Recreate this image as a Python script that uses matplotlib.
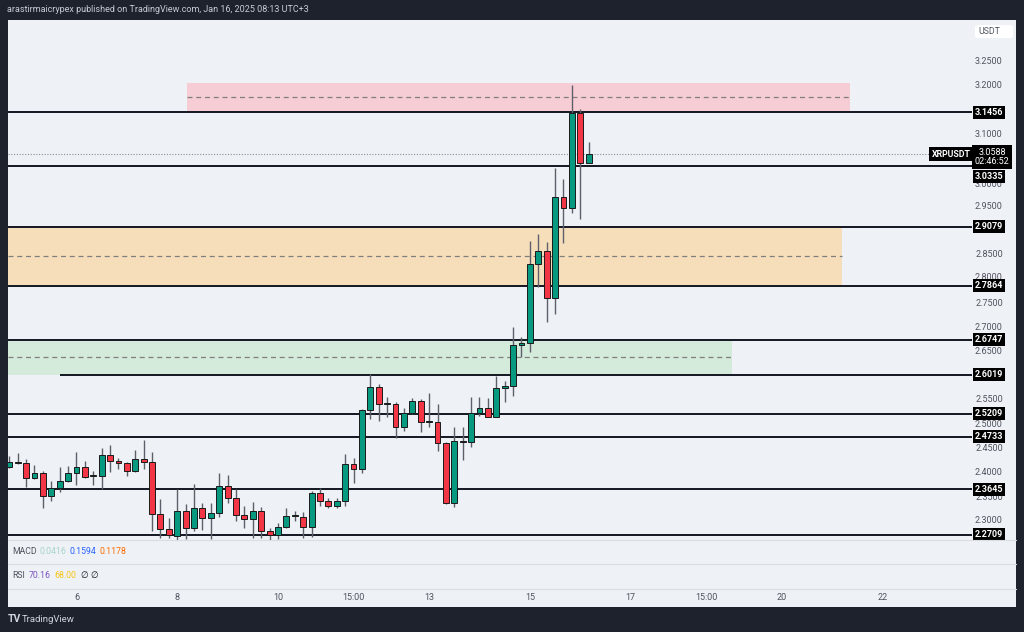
import matplotlib
matplotlib.use('Agg')
import matplotlib.pyplot as plt
import matplotlib.transforms as mtransforms
from matplotlib.patches import Rectangle, FancyBboxPatch

plt.rcParams['font.family'] = ['Roboto', 'DejaVu Sans']

# ---------------- data (4h XRPUSDT candles) ----------------
opens = [2.410, 2.422, 2.4185, 2.3875, 2.399, 2.3508, 2.3668, 2.3825, 2.3978, 2.4102,
         2.392, 2.3929, 2.4357, 2.4233, 2.4185, 2.4026, 2.4268, 2.4206, 2.3129, 2.2819,
         2.2686, 2.3198, 2.2839, 2.3254, 2.3059, 2.315, 2.3715, 2.346, 2.3115, 2.3026,
         2.3198, 2.2783, 2.2701, 2.2873, 2.3094, 2.308, 2.286, 2.3564, 2.3405, 2.3307,
         2.3411, 2.4165, 2.406, 2.5289, 2.5759, 2.5413, 2.5413, 2.4931, 2.522, 2.5481,
         2.5047, 2.5047, 2.4612, 2.337, 2.4653, 2.4633, 2.522, 2.5324, 2.515, 2.5738,
         2.5786, 2.6635, 2.667, 2.8312, 2.8587, 2.7601, 2.9705, 2.9465, 3.1432, 3.0409]
highs = [2.434, 2.4405, 2.4268, 2.415, 2.4026, 2.3818, 2.4102, 2.4136, 2.4413, 2.4233,
         2.4032, 2.4496, 2.4564, 2.4289, 2.4218, 2.4461, 2.4668, 2.4426, 2.3446, 2.3046,
         2.3653, 2.3336, 2.3749, 2.3357, 2.3357, 2.3978, 2.3943, 2.3653, 2.3307, 2.3378,
         2.3287, 2.284, 2.2943, 2.3254, 2.3198, 2.317, 2.3612, 2.368, 2.3467, 2.3467,
         2.4371, 2.4289, 2.5303, 2.6034, 2.5827, 2.5552, 2.545, 2.5324, 2.5531, 2.551,
         2.5635, 2.5413, 2.462, 2.4943, 2.4931, 2.5552, 2.5552, 2.5531, 2.5993, 2.5896,
         2.7001, 2.6807, 2.8788, 2.8933, 2.8761, 3.0293, 3.0071, 3.2018, 3.1515, 3.0844]
lows = [2.408, 2.4165, 2.3701, 2.386, 2.3266, 2.3411, 2.3585, 2.3805, 2.3737, 2.389,
        2.3737, 2.3647, 2.3999, 2.4067, 2.3922, 2.401, 2.406, 2.2783, 2.2632, 2.2632,
        2.2597, 2.2618, 2.2783, 2.2804, 2.2618, 2.308, 2.3357, 2.299, 2.2853, 2.2632,
        2.2632, 2.2597, 2.2618, 2.2839, 2.299, 2.2632, 2.2666, 2.3307, 2.3266, 2.3266,
        2.3307, 2.3784, 2.3978, 2.5096, 2.5068, 2.515, 2.4703, 2.486, 2.5206, 2.4838,
        2.4944, 2.4446, 2.3343, 2.3287, 2.4253, 2.4516, 2.5165, 2.5137, 2.5137, 2.5461,
        2.5579, 2.638, 2.6496, 2.7842, 2.7117, 2.727, 2.874, 2.9361, 2.9237, 3.040]
closes = [2.422, 2.419, 2.3887, 2.399, 2.3508, 2.3668, 2.3825, 2.399, 2.4102, 2.3908,
          2.393, 2.4357, 2.4233, 2.4185, 2.4026, 2.4268, 2.4206, 2.3129, 2.2819, 2.2701,
          2.3198, 2.2839, 2.3254, 2.3059, 2.315, 2.3715, 2.346, 2.3115, 2.3026, 2.3198,
          2.2783, 2.2701, 2.2873, 2.3094, 2.3100, 2.286, 2.3564, 2.3405, 2.3307, 2.3411,
          2.4165, 2.406, 2.5289, 2.5759, 2.5413, 2.5420, 2.4931, 2.522, 2.5481, 2.5034,
          2.5052, 2.4612, 2.337, 2.4653, 2.462, 2.522, 2.5324, 2.515, 2.5738, 2.5792,
          2.6635, 2.6682, 2.8312, 2.8587, 2.7601, 2.9705, 2.9465, 3.1432, 3.0409, 3.0588]

level_prices = [3.1456, 3.0335, 2.9079, 2.7864, 2.6747, 2.6019, 2.5209, 2.4733, 2.3645, 2.2709]
level_labels = ['3.1456', '3.0335', '2.9079', '2.7864', '2.6747', '2.6019', '2.5209', '2.4733', '2.3645', '2.2709']

zone_lows = [3.1456, 2.7864, 2.6019]
zone_highs = [3.2066, 2.9079, 2.6747]

price_tick_labels = ['2.3000', '2.3500', '2.4000', '2.4500', '2.5000', '2.5500', '2.6000',
                     '2.6500', '2.7000', '2.7500', '2.8000', '2.8500', '2.9000', '2.9500',
                     '3.0000', '3.0500', '3.1000', '3.1500', '3.2000', '3.2500']
hidden_ticks = ['2.6000', '2.9000', '3.0500', '3.1500']

time_tick_pos = [8, 20, 32, 41, 50, 62, 74, 83, 92, 104]
time_tick_labels = ['6', '8', '10', '15:00', '13', '15', '17', '15:00', '20', '22']

last_price = 3.0588
last_label = '3.0588\n02:46:52'
symbol = 'XRPUSDT'

# ---------------- figure ----------------
W, H = 1024, 632
fig = plt.figure(figsize=(W / 100, H / 100), dpi=100, facecolor='#1e222d')

def fx(px):
    return px / W

def fy(py):
    return 1 - py / H

panel_bg = '#eef1f5'
fig.patches.append(Rectangle((fx(8), fy(607)), fx(1016) - fx(8), fy(20) - fy(607),
                             transform=fig.transFigure, facecolor=panel_bg,
                             edgecolor='none', zorder=-2))

ax = fig.add_axes([fx(8), fy(540), fx(972) - fx(8), fy(20) - fy(540)])
ax.set_facecolor('none')
for s in ax.spines.values():
    s.set_visible(False)
ax.set_xticks([])
ax.set_yticks([])
x_left, x_right = -0.155, 114.66
ax.set_xlim(x_left, x_right)
ax.set_ylim(2.2597, 3.3363)

# zones
zone_starts = [21.16, x_left, x_left]
zone_ends = [100.1, 99.2, 86.1]
zone_colors = ['#f6cdd4', '#f7debb', '#d4eadb']
for lo, hi, xs, xe, c in zip(zone_lows, zone_highs, zone_starts, zone_ends, zone_colors):
    ax.add_patch(Rectangle((xs, lo), xe - xs, hi - lo, facecolor=c, edgecolor='none', zorder=1))
    ax.hlines((lo + hi) / 2, xs, xe, colors='#7f7f7f', linestyles=(0, (4, 3)), lw=0.9, zorder=2)

# level lines
level_starts = [x_left] * len(level_prices)
level_starts[5] = 6.04
for p, xs in zip(level_prices, level_starts):
    ax.hlines(p, xs, x_right, colors='#131722', lw=1.4, zorder=3)

# current price dotted line
ax.hlines(last_price, x_left, 109.66, colors='#8a8d96', linestyles=(0, (1, 1.5)), lw=0.8, zorder=3)

# candles
up_c, dn_c = '#089981', '#f23645'
for i, (o, h, l, c) in enumerate(zip(opens, highs, lows, closes)):
    col = up_c if c >= o else dn_c
    ax.vlines(i, l, h, colors='#5d606b', lw=1.0, zorder=4)
    bottom = min(o, c)
    height = max(abs(c - o), 0.0018)
    ax.bar(i, height, bottom=bottom, width=0.7, color=col, edgecolor='#1a1a1a',
           linewidth=0.7, zorder=5)

# price axis labels (a few nudged so they peek out from under the level boxes)
ytr = ax.get_yaxis_transform()
xlab = (989 - 8) / 964
nudge = {'3.0000': -0.0045, '2.8000': 0.004, '2.3500': -0.003, '2.5000': -0.001}
for lab in price_tick_labels:
    if lab in hidden_ticks:
        continue
    ax.text(xlab, float(lab) + nudge.get(lab, 0.0), lab, transform=ytr, ha='center',
            va='center', fontsize=6.5, color='#50535e', clip_on=False, zorder=6)

label_y = list(level_prices)
label_y[1] = 3.0125
for p, lab in zip(label_y, level_labels):
    ax.text(xlab, p, lab, transform=ytr, ha='center', va='center', fontsize=6.5,
            fontweight='bold', color='white', clip_on=False, zorder=10,
            bbox=dict(boxstyle='square,pad=0.22', fc='#000000', ec='none'))

ax.text((951 - 8) / 964, last_price, symbol, transform=ytr, ha='center', va='center',
        fontsize=6.3, fontweight='bold', color='white', clip_on=False, zorder=10,
        bbox=dict(boxstyle='square,pad=0.3', fc='#000000', ec='none'))
ax.text((992 - 8) / 964, 3.0527, last_label, transform=ytr, ha='center', va='center',
        fontsize=6.5, color='white', linespacing=1.05, clip_on=False, zorder=11,
        bbox=dict(boxstyle='square,pad=0.3', fc='#000000', ec='none'))

# USDT box
fig.patches.append(FancyBboxPatch((fx(975), fy(38)), fx(1013) - fx(975), fy(25) - fy(38),
                                  boxstyle='round,pad=0,rounding_size=0.003',
                                  transform=fig.transFigure, fc='white', ec='none', zorder=3))
fig.text(fx(989), fy(31.5), 'USDT', ha='center', va='center', fontsize=6.3, color='#50535e',
         zorder=4)

# pane separators
for yy in [540, 564, 589]:
    fig.add_artist(plt.Line2D([fx(8), fx(1016)], [fy(yy), fy(yy)], transform=fig.transFigure,
                              color='#dadde3', lw=0.8))

# indicator legends
def seq(x0, y, parts, size=6.3):
    x = x0
    for txt, col, w in parts:
        fig.text(fx(x), fy(y), txt, ha='left', va='center', fontsize=size, color=col)
        x += w

seq(12, 552, [('MACD', '#50535e', 27), ('0.0416', '#a8d5cc', 30),
              ('0.1594', '#2962ff', 30), ('0.1178', '#ff6d00', 30)])
seq(12, 576, [('RSI', '#50535e', 17), ('70.16', '#7e57c2', 25),
              ('68.00', '#f5c518', 26), ('\u2205', '#131722', 10), ('\u2205', '#131722', 10)])

# time axis labels
ttr = mtransforms.blended_transform_factory(ax.transData, fig.transFigure)
for pos, lab in zip(time_tick_pos, time_tick_labels):
    ax.text(pos, fy(597.5), lab, transform=ttr, ha='center', va='center', fontsize=6.5,
            color='#50535e', clip_on=False)

# header and logo
fig.text(fx(7), fy(10), 'arastirmaicrypex published on TradingView.com, Jan 16, 2025 08:13 UTC+3',
         ha='left', va='center', fontsize=6.5, color='#c9ccd4')
fig.text(fx(8), fy(619), 'TV', ha='left', va='center', fontsize=7.5, fontweight='bold', color='#d1d4dc')
fig.text(fx(22), fy(619), 'TradingView', ha='left', va='center', fontsize=6.8, color='#d1d4dc')

fig.savefig('out.png', dpi=100, facecolor=fig.get_facecolor())
